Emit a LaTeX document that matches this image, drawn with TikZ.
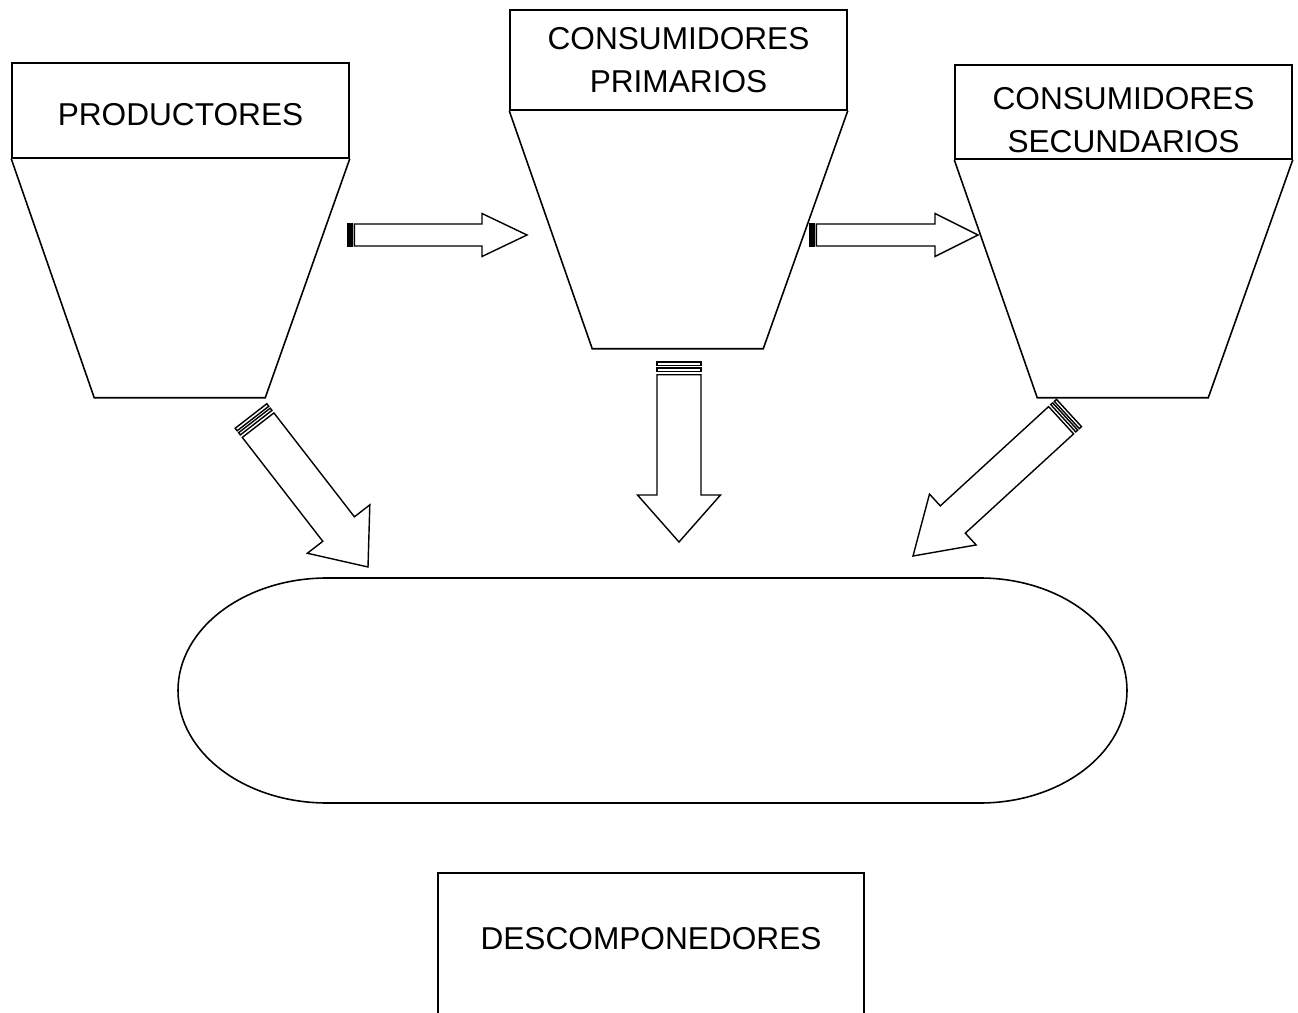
\documentclass[tikz,border=0pt]{standalone}
\usepackage{fontspec}
\setmainfont{Liberation Sans}
\usetikzlibrary{calc}
\tikzset{
    box/.style={
        draw, line width=0.9pt,
        minimum width=6.74cm,
        align=center, inner sep=2pt,
        font=\fontsize{18}{24.6}\selectfont
    },
    funnel/.style={draw, line width=0.9pt, line join=miter},
    blockarrow/.style={draw, line width=0.8pt, fill=white, line join=miter}
}
% striped block arrow: tail, tip, shaft width, head width, head length (px)
\newcommand{\stripedarrow}[5]{%
    \pgfmathsetlengthmacro{\arrSw}{#3/2*0.02cm}%
    \pgfmathsetlengthmacro{\arrHw}{#4/2*0.02cm}%
    \pgfmathsetlengthmacro{\arrHl}{#5*0.02cm}%
    \pgfmathsetlengthmacro{\arrSa}{#3*0.08*0.02cm}%
    \pgfmathsetlengthmacro{\arrSb}{#3*0.14*0.02cm}%
    \pgfmathsetlengthmacro{\arrSc}{#3*0.21*0.02cm}%
    \pgfmathsetlengthmacro{\arrBd}{#3*0.29*0.02cm}%
    \draw[blockarrow] ($(#1)!\arrSw!90:(#2)$) -- ($(#1)!\arrSw!-90:(#2)$)
        -- ($(#1)!\arrSa!(#2)!\arrSw!-90:(#2)$) -- ($(#1)!\arrSa!(#2)!\arrSw!90:(#2)$) -- cycle;
    \draw[blockarrow] ($(#1)!\arrSb!(#2)!\arrSw!90:(#2)$) -- ($(#1)!\arrSb!(#2)!\arrSw!-90:(#2)$)
        -- ($(#1)!\arrSc!(#2)!\arrSw!-90:(#2)$) -- ($(#1)!\arrSc!(#2)!\arrSw!90:(#2)$) -- cycle;
    \draw[blockarrow] ($(#1)!\arrBd!(#2)!\arrSw!90:(#2)$)
        -- ($(#2)!\arrHl!(#1)!\arrSw!-90:(#1)$)
        -- ($(#2)!\arrHl!(#1)!\arrHw!-90:(#1)$)
        -- (#2)
        -- ($(#2)!\arrHl!(#1)!\arrHw!90:(#1)$)
        -- ($(#2)!\arrHl!(#1)!\arrSw!90:(#1)$)
        -- ($(#1)!\arrBd!(#2)!\arrSw!-90:(#2)$) -- cycle;
}

\begin{document}
\begin{tikzpicture}[x=0.02cm, y=-0.02cm]
\useasboundingbox (0,0) rectangle (1298,1013);

% Boxes
\node[box, minimum height=1.9cm, text height=17.6pt, text depth=0pt] (prod) at (180.5,110.5) {PRODUCTORES};
\node[box, minimum height=2.0cm] (prim) at (678.5,60) {CONSUMIDORES\\PRIMARIOS};
\node[box, minimum height=1.88cm, text height=46pt, text depth=0pt] (sec) at (1123.5,112) {CONSUMIDORES\\SECUNDARIOS};

% Funnels under the boxes
\draw[funnel] (prod.south west) -- ++(83,239) -- ++(171,0) -- (prod.south east);
\draw[funnel] (prim.south west) -- ++(83,238) -- ++(171,0) -- (prim.south east);
\draw[funnel] (sec.south west) -- ++(83,238) -- ++(171,0) -- (sec.south east);

% Middle ring
\draw[line width=0.9pt] (327,578) -- (980,578)
    arc[start angle=-90, end angle=90, x radius=147, y radius=112.5]
    -- (327,803)
    arc[start angle=90, end angle=270, x radius=149, y radius=112.5] -- cycle;

% Decomposers (cut by the page)
\node[box, draw=none, minimum width=8.48cm, minimum height=2.6cm] (desc) at (651,939) {DESCOMPONEDORES};
\draw[line width=0.9pt] ([yshift=-12pt]desc.south west) -- (desc.north west)
    -- (desc.north east) -- ([yshift=-12pt]desc.south east);

% Arrow ends
\coordinate (prodE) at (348,235);
\coordinate (primW) at (527,235);
\coordinate (primE) at (810,235);
\coordinate (secW) at (978,235);
\coordinate (primS) at (679,362);
\coordinate (ringN) at (679,542);
\coordinate (prodS) at (251,416);
\coordinate (ringW) at (368,567);
\coordinate (secS) at (1069,413);
\coordinate (ringE) at (913,556);

% Arrows
\stripedarrow{prodE}{primW}{22}{43}{45}
\stripedarrow{primE}{secW}{22}{43}{43}
\stripedarrow{primS}{ringN}{44}{83}{47}
\stripedarrow{prodS}{ringW}{40}{79}{48}
\stripedarrow{secS}{ringE}{37}{69}{54}

\end{tikzpicture}
\end{document}
